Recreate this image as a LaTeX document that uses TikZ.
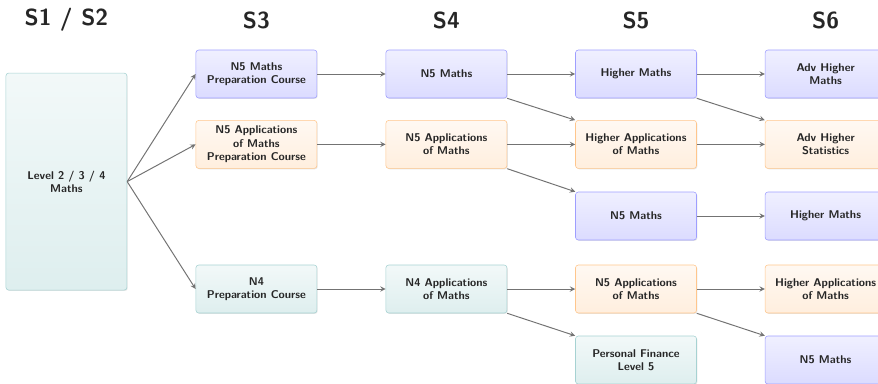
\documentclass[tikz,border=0pt]{standalone}
\usepackage{tikz}
\usetikzlibrary{shapes.geometric, arrows, shadows}
\tikzstyle{box}=[rectangle, rounded corners=2pt, minimum width=3.025cm, minimum height=1.2cm, inner sep=0, align=center, font=\sffamily\bfseries\footnotesize, text=black!85, drop shadow={opacity=.2,shadow xshift=.6pt,shadow yshift=-.6pt}]
\tikzstyle{bluebox}=[box, draw=blue!38, top color=blue!6, bottom color=blue!14]
\tikzstyle{orangebox}=[box, draw=orange!45, top color=orange!5, bottom color=orange!13]
\tikzstyle{tealbox}=[box, draw=teal!35, top color=teal!5, bottom color=teal!13]
\tikzstyle{heading}=[font=\sffamily\bfseries\fontsize{16.5}{20}\selectfont, text=black!85]
\tikzstyle{arrow} = [line width=0.7pt,->,>=stealth, draw=black!55]

\begin{document}
\begin{tikzpicture}
\useasboundingbox (0,0) rectangle (21.95,-9.575);
\clip (0,0) rectangle (21.95,-9.575);

% year headings
\foreach \x/\t [count=\i] in {1.66/{S1 / S2},6.41/S3,11.16/S4,15.9/S5,20.64/S6}{
	\node[heading] (h\i) at (\x,-0.5) {\t};
}

% S1 / S2
\node[tealbox, minimum height=5.425cm] (l234) at (1.66,-4.54) {Level 2 / 3 / 4\\Maths};

% S3
\node[bluebox] (prepa) at (6.41,-1.85) {N5 Maths\\Preparation Course};
\node[orangebox] (prepb) at (6.41,-3.61) {N5 Applications\\of Maths\\Preparation Course};
\node[tealbox] (prepd) at (6.41,-7.225) {N4\\Preparation Course};

% S4
\node[bluebox] (ffa) at (11.16,-1.85) {N5 Maths};
\node[orangebox] (ffb) at (11.16,-3.61) {N5 Applications\\of Maths};
\node[tealbox] (ffd) at (11.16,-7.225) {N4 Applications\\of Maths};

% S5
\node[bluebox] (fva) at (15.9,-1.85) {Higher Maths};
\node[orangebox] (fvb) at (15.9,-3.61) {Higher Applications\\of Maths};
\node[bluebox] (fvc) at (15.9,-5.4) {N5 Maths};
\node[orangebox] (fvd) at (15.9,-7.225) {N5 Applications\\of Maths};
\node[tealbox] (fve) at (15.9,-9.0) {Personal Finance\\Level 5};

% S6
\node[bluebox] (sxa) at (20.64,-1.85) {Adv Higher\\Maths};
\node[orangebox] (sxb) at (20.64,-3.61) {Adv Higher\\Statistics};
\node[bluebox] (sxc) at (20.64,-5.4) {Higher Maths};
\node[orangebox] (sxd) at (20.64,-7.225) {Higher Applications\\of Maths};
\node[bluebox] (sxe) at (20.64,-9.0) {N5 Maths};

% straight on
\foreach \a/\b in {prepa/ffa,prepb/ffb,prepd/ffd,ffa/fva,ffb/fvb,ffd/fvd,fva/sxa,fvb/sxb,fvc/sxc,fvd/sxd}{
	\draw[arrow] (\a.east)--(\b.west);
}
% one row down
\foreach \a/\b in {ffa/fvb,ffb/fvc,ffd/fve,fva/sxb,fvd/sxe}{
	\draw[arrow] (\a.south east)--(\b.north west);
}
% out of S1 / S2
\foreach \b in {prepa,prepb,prepd}{
	\draw[arrow] (l234.east)--(\b.west);
}

\end{tikzpicture}
\end{document}
